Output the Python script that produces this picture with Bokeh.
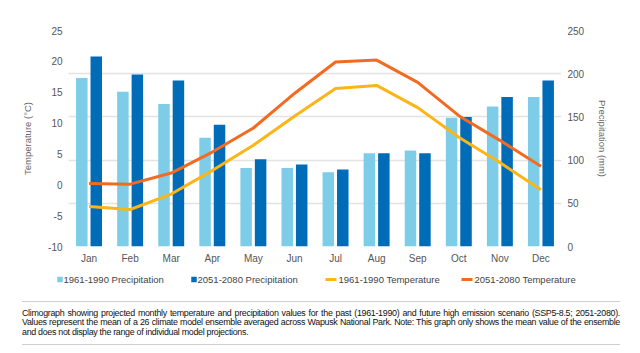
import math
from bokeh.plotting import figure
from bokeh.models import Range1d, LinearAxis, FixedTicker, Div, Grid
from bokeh.layouts import column, row
from bokeh.core.properties import value
from bokeh.embed import file_html
from bokeh.resources import INLINE

months = ["Jan", "Feb", "Mar", "Apr", "May", "Jun",
          "Jul", "Aug", "Sep", "Oct", "Nov", "Dec"]
precip_1961_1990 = [195, 179, 165, 126, 91, 91, 86, 108, 111, 149, 162, 173]
precip_2051_2080 = [220, 199, 192, 141, 101, 95, 89, 108, 108, 150, 173, 192]
temp_1961_1990 = [-3.5, -4.0, -1.5, 2.3, 6.4, 11.1, 15.6, 16.1, 12.5, 7.7, 3.6, -0.8]
temp_2051_2080 = [0.2, 0.1, 1.9, 5.3, 9.2, 14.8, 19.9, 20.2, 16.6, 11.2, 7.2, 3.0]
temp_ticks = [-10, -5, 0, 5, 10, 15, 20, 25]
precip_ticks = [0, 50, 100, 150, 200, 250]
legend_labels = ["1961-1990 Precipitation", "2051-2080 Precipitation",
                 "1961-1990 Temperature", "2051-2080 Temperature"]
left_title = "Temperature (°C)"
right_title = "Precipitation (mm)"
caption_lines = [
    "Climograph showing projected monthly temperature and precipitation values for the past (1961-1990) and future high emission scenario (SSP5-8.5; 2051-2080).",
    "Values represent the mean of a 26 climate model ensemble averaged across Wapusk National Park. Note: This graph only shows the mean value of the ensemble",
    "and does not display the range of individual model projections.",
]

LIGHT = "#7dcde8"
DARK = "#006cb7"
YELLOW = "#fbb516"
ORANGE = "#f36b21"
FONT = "Liberation Sans"
TICK_COLOR = "#555555"
TITLE_COLOR = "#666666"

xs = list(range(len(months)))
H = 266          # height of the chart row
LW, RW = 40, 49  # widths of the side title strips

# ---------------- main chart ----------------
p = figure(width=640 - LW - RW, height=H, output_backend="svg",
           toolbar_location=None,
           x_range=Range1d(-0.5, 11.5), y_range=Range1d(-10, 25),
           min_border_left=28, min_border_right=30, min_border_top=30,
           min_border_bottom=20)
p.outline_line_color = None
p.background_fill_color = "white"
p.border_fill_color = "white"
p.extra_y_ranges = {"precip": Range1d(0, 250)}

p.xgrid.visible = False
p.ygrid.visible = False
p.add_layout(Grid(dimension=1, ticker=FixedTicker(ticks=precip_ticks),
                  y_range_name="precip", grid_line_color="#e3e3e3",
                  grid_line_width=1.5))

off = 0.176
w = 0.28
p.vbar(x=[x - off for x in xs], top=precip_1961_1990, bottom=0, width=w,
       color=LIGHT, line_color=None, y_range_name="precip")
p.vbar(x=[x + off for x in xs], top=precip_2051_2080, bottom=0, width=w,
       color=DARK, line_color=None, y_range_name="precip")
p.line(xs, temp_1961_1990, line_color=YELLOW, line_width=3)
p.line(xs, temp_2051_2080, line_color=ORANGE, line_width=3)


def style_axis(ax):
    ax.axis_line_color = None
    ax.major_tick_line_color = None
    ax.minor_tick_line_color = None
    ax.major_tick_out = 0
    ax.major_tick_in = 0
    ax.minor_tick_out = 0
    ax.minor_tick_in = 0
    ax.major_label_text_font = FONT
    ax.major_label_text_font_size = "10px"
    ax.major_label_text_color = TICK_COLOR
    ax.major_label_standoff = 6


ya = p.yaxis[0]
ya.ticker = FixedTicker(ticks=temp_ticks)
ya.major_label_overrides = {t: str(t) for t in temp_ticks}
style_axis(ya)

ra = LinearAxis(y_range_name="precip", ticker=FixedTicker(ticks=precip_ticks))
style_axis(ra)
p.add_layout(ra, "right")

xa = p.xaxis[0]
xa.ticker = FixedTicker(ticks=xs)
xa.major_label_overrides = {i: m for i, m in enumerate(months)}
style_axis(xa)


# ---------------- side strips with axis titles ----------------
def strip(width, height, yr=(0, 1)):
    f = figure(width=width, height=height, output_backend="svg",
               toolbar_location=None, x_axis_type=None, y_axis_type=None,
               x_range=Range1d(0, width), y_range=Range1d(*yr),
               min_border=0)
    f.outline_line_color = None
    f.background_fill_color = "white"
    f.border_fill_color = "white"
    f.grid.visible = False
    return f


tl = strip(LW, H)
tl.text(x=[27], y=[0.5], text=[left_title], angle=math.pi / 2,
        text_align="center", text_baseline="middle",
        text_font=value(FONT), text_font_size="9.5px", text_color=TITLE_COLOR)
tr = strip(RW, H)
tr.text(x=[602 - (640 - RW)], y=[0.5], text=[right_title],
        angle=-math.pi / 2, text_align="center", text_baseline="middle",
        text_font=value(FONT), text_font_size="9.5px", text_color=TITLE_COLOR)

# ---------------- legend strip ----------------
LH = 24
lg = strip(640, LH, (0, LH))
item_x = [57, 191, 325, 461]
cy = LH - 13
lg.rect(x=[item_x[0] + 2.5, item_x[1] + 2.5], y=[cy, cy], width=5.5, height=5.5,
        fill_color=[LIGHT, DARK], line_color=None)
lg.segment(x0=[item_x[2], item_x[3]], y0=[cy, cy],
           x1=[item_x[2] + 11, item_x[3] + 11], y1=[cy, cy],
           line_color=[YELLOW, ORANGE], line_width=3)
lg.text(x=[item_x[0] + 6, item_x[1] + 6, item_x[2] + 13, item_x[3] + 13],
        y=[cy] * 4, text=legend_labels, text_baseline="middle",
        text_font=value(FONT), text_font_size="9.5px", text_color="#444444")

# ---------------- caption ----------------
line1, line2, line3 = caption_lines
just = "text-align:justify;text-align-last:justify;"
div = Div(text=f"""
<div style="width:640px;height:63px;position:relative;background:white;">
  <div style="position:absolute;left:22px;top:11px;width:598px;border-top:1.5px solid #cfcfcf;"></div>
  <div style="position:absolute;left:22px;top:19px;width:598px;font-family:'Liberation Sans Narrow','Liberation Sans',sans-serif;font-size:8.9px;line-height:9.4px;color:#111;letter-spacing:-0.3px;white-space:nowrap;">
    <div style="{just}">{line1}</div>
    <div style="{just}">{line2}</div>
    <div>{line3}</div>
  </div>
  <div style="position:absolute;left:22px;top:54px;width:598px;border-top:1.5px solid #cfcfcf;"></div>
</div>""", width=640, height=63, margin=0)

layout = column(row(tl, p, tr, spacing=0), lg, div, spacing=0)
open("out.html", "w").write(file_html(layout, INLINE))
